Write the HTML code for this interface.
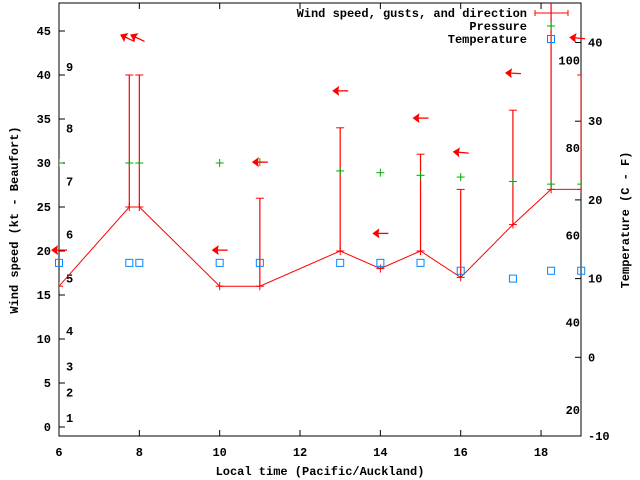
<!DOCTYPE html>
<html><head><meta charset="utf-8"><style>
html,body{margin:0;padding:0;background:#fff;}
svg{display:block;}
text{font-family:"Liberation Mono",monospace;font-weight:bold;font-size:12px;fill:#000;}
</style></head><body>
<svg id="chart" width="640" height="480" viewBox="0 0 640 480" xmlns="http://www.w3.org/2000/svg">
<defs><clipPath id="plotclip"><rect x="59" y="3" width="522" height="433"/></clipPath></defs>
<g id="axes"></g>
<g id="marks" clip-path="url(#plotclip)"></g>
<g id="overlay"></g>
<text transform="translate(18,220) rotate(-90)" text-anchor="middle">Wind speed (kt - Beaufort)</text>
<text transform="translate(629,220) rotate(-90)" text-anchor="middle">Temperature (C - F)</text>
<text x="320" y="475" text-anchor="middle">Local time (Pacific/Auckland)</text>
</svg>
<script>
const hours = [6.0, 7.75, 8.0, 10.0, 11.0, 13.0, 14.0, 15.0, 16.0, 17.3, 18.25, 19.0];
const speeds = [16, 25, 25, 16, 16, 20, 18, 20, 17, 23, 27, 27];
const gusts = [null, 40, 40, null, 26, 34, null, 31, 27, 36, 55, 40];
const pressure = [30, 30, 30, 30, 30.1, 29.1, 28.9, 28.6, 28.4, 27.9, 27.6, 27.6];
const tempsC = [12, 12, 12, 12, 12, 12, 12, 12, 11, 10, 11, 11];
const arrowHours = [6.0, 7.7, 7.95, 10.0, 11.0, 13.0, 14.0, 15.0, 16.0, 17.3, 18.9];
const arrowLevel = [20.1, 44.2, 44.2, 20.1, 30.1, 38.2, 22, 35.1, 31.2, 40.2, 44.2];
const arrowAngle = [180, 205, 205, 180, 180, 180, 180, 180, 185, 183, 185];
const xTicks = [6, 8, 10, 12, 14, 16, 18];
const yTicks = [0, 5, 10, 15, 20, 25, 30, 35, 40, 45];
const y2Ticks = [-10, 0, 10, 20, 30, 40];
const beaufortLabels = ['1','2','3','4','5','6','7','8','9'];
const beaufortKt = [1, 3.9, 6.9, 10.9, 16.9, 21.9, 27.9, 33.9, 40.9];
const fahrenheitLabels = ['100','80','60','40','20'];
const fahrenheitC = [37.7, 26.6, 15.5, 4.4, -6.7];

const X = h => 59 + (h - 6) * 40.17;
const Y = v => 427 - v * 8.8;
const Y2 = c => 436 - (c + 10) * 7.87;
const NS = 'http://www.w3.org/2000/svg';
function mk(parent, tag, attrs, txt) {
  const e = document.createElementNS(NS, tag);
  for (const k in attrs) e.setAttribute(k, attrs[k]);
  if (txt !== undefined) e.textContent = txt;
  parent.appendChild(e);
  return e;
}
const axes = document.getElementById('axes');
const marks = document.getElementById('marks');
const overlay = document.getElementById('overlay');

let b = mk(axes, 'rect', {x:59, y:3, width:522, height:433, fill:'none', stroke:'#000', 'stroke-width':1});



xTicks.forEach(t => {
  const x = X(t);
  mk(axes, 'line', {x1:x, y1:436, x2:x, y2:430, stroke:'#000'});
  mk(axes, 'line', {x1:x, y1:3, x2:x, y2:9, stroke:'#000'});
  const l = mk(axes, 'text', {x:x, y:456, 'text-anchor':'middle'}, String(t));
  
  
});
yTicks.forEach(t => {
  const y = Y(t);
  mk(axes, 'line', {x1:59, y1:y, x2:65, y2:y, stroke:'#000'});
  const l = mk(axes, 'text', {x:51, y:y + 4, 'text-anchor':'end'}, String(t));
  
  
});
y2Ticks.forEach(t => {
  const y = Y2(t);
  mk(axes, 'line', {x1:581, y1:y, x2:575, y2:y, stroke:'#000'});
  const l = mk(axes, 'text', {x:588, y:y + 4, 'text-anchor':'start'}, String(t));
  
  
});
beaufortLabels.forEach((s, i) => {
  const l = mk(axes, 'text', {x:66, y:Y(beaufortKt[i]) + 4}, s);
  
  
});
fahrenheitLabels.forEach((s, i) => {
  const l = mk(axes, 'text', {x:580, y:Y2(fahrenheitC[i]) + 4, 'text-anchor':'end'}, s);
  
  
});

// wind speed line
const pts = hours.map((h, i) => X(h) + ',' + Y(speeds[i])).join(' ');
const pl = mk(marks, 'polyline', {points:pts, fill:'none', stroke:'#f00', 'stroke-width':1});



hours.forEach((h, i) => {
  const x = X(h), y = Y(speeds[i]);
  const g = mk(marks, 'g', {stroke:'#f00', 'stroke-width':1});
  
  
  mk(g, 'line', {x1:x - 4, y1:y, x2:x + 4, y2:y});
  mk(g, 'line', {x1:x, y1:y - 4, x2:x, y2:y + 4});
  if (gusts[i] !== null) {
    const gy = Y(gusts[i]);
    const e = mk(g, 'line', {x1:x, y1:y, x2:x, y2:gy, 'stroke-width':1.2});
    
    
    mk(g, 'line', {x1:x - 4, y1:gy, x2:x + 4, y2:gy});
  }
});
pressure.forEach((p, i) => {
  const x = X(hours[i]), y = Y(p);
  const g = mk(marks, 'g', {stroke:'#0a0', 'stroke-width':1});
  
  
  mk(g, 'line', {x1:x - 4, y1:y, x2:x + 4, y2:y});
  mk(g, 'line', {x1:x, y1:y - 4, x2:x, y2:y + 4});
});
tempsC.forEach((c, i) => {
  const x = X(hours[i]), y = Y2(c);
  const r = mk(overlay, 'rect', {x:x - 3.5, y:y - 3.5, width:7, height:7, fill:'none', stroke:'#08f', 'stroke-width':1});
  
  
});
arrowHours.forEach((h, i) => {
  const cx = X(h), cy = Y(arrowLevel[i]);
  const g = mk(overlay, 'g', {transform:`translate(${cx},${cy}) rotate(${arrowAngle[i] - 180})`});
  
  
  mk(g, 'line', {x1:-6, y1:0, x2:8, y2:0, stroke:'#f00', 'stroke-width':1.3});
  mk(g, 'polygon', {points:'-8,0 -1,-5 -2,0 -1,5', fill:'#f00'});
});

// legend
const lg = mk(overlay, 'g', {});


const lgTexts = ['Wind speed, gusts, and direction', 'Pressure', 'Temperature'];
lgTexts.forEach((s, i) => {
  const t = mk(lg, 'text', {x:527, y:17 + i * 13, 'text-anchor':'end'}, s);
  
  
});
mk(lg, 'line', {x1:535, y1:13, x2:568, y2:13, stroke:'#f00'});
mk(lg, 'line', {x1:535, y1:10, x2:535, y2:16, stroke:'#f00'});
mk(lg, 'line', {x1:568, y1:10, x2:568, y2:16, stroke:'#f00'});
mk(lg, 'line', {x1:547, y1:26, x2:555, y2:26, stroke:'#0a0'});
mk(lg, 'line', {x1:551, y1:22, x2:551, y2:30, stroke:'#0a0'});
mk(lg, 'rect', {x:547.5, y:35.5, width:7, height:7, fill:'none', stroke:'#08f'});
</script>
</body></html>
